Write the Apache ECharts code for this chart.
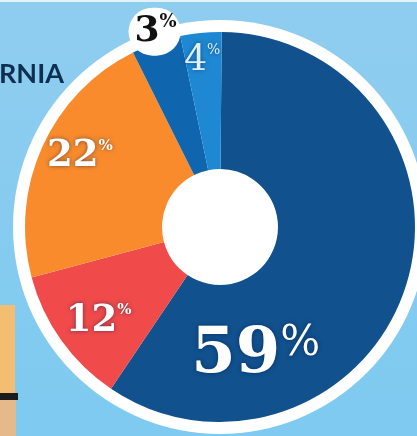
<!DOCTYPE html>
<html>
<head>
<meta charset="utf-8">
<script src="https://cdn.jsdelivr.net/npm/echarts@6/dist/echarts.min.js"></script>
<style>
html, body { margin: 0; padding: 0; }
#main { width: 417px; height: 436px; }
</style>
</head>
<body>
<div id="main"></div>
<script>
// slices, clockwise from 12 o'clock
var sliceNames = ['dark blue', 'red', 'orange', 'navy', 'light blue'];
// share of the circle each slice takes in the picture
var sliceShares = [59.3, 11.4, 21.8, 4.1, 3.4];
// percentages printed on the slices
var printedPct = [59, 12, 22, 3, 4];

var sliceColors = ['#10518e', '#f04a4b', '#f98b2d', '#0f66ae', '#1f88d3'];
var serif = '"DejaVu Serif", "Liberation Serif", serif';

// label look for each slice
var labelStyles = [
    { offset: [-88, 90], n: 64, p: 42, color: '#ffffff', weight: 'bold', pw: 'normal' },
    { offset: [-16, 19], n: 37, p: 15, color: '#ffffff', weight: 'bold', pw: 'bold' },
    { offset: [-22, -17], n: 37, p: 15, color: '#ffffff', weight: 'bold', pw: 'bold' },
    { offset: [-23, -73], n: 36, p: 18, color: '#111111', weight: 'bold', pw: 'bold', bubble: true },
    { offset: [-5, -37], n: 36, p: 14, color: '#dff0fb', weight: 'normal', pw: 'normal' }
];

var pieData = [];
for (var i = 0; i < sliceShares.length; i++) {
    var s = labelStyles[i];
    var lbl = {
        show: true,
        position: 'inside',
        offset: s.offset,
        formatter: '{n|' + printedPct[i] + '}{p|%}',
        rich: {
            n: { fontFamily: serif, fontSize: s.n, fontWeight: s.weight, color: s.color, lineHeight: s.n },
            p: { fontFamily: serif, fontSize: s.p, fontWeight: s.pw, color: s.color, verticalAlign: 'top', lineHeight: s.n }
        }
    };
    if (s.bubble) {
        lbl.backgroundColor = '#ffffff';
        lbl.borderRadius = 24;
        lbl.padding = [6, 4, 6, 6];
    } else {
        lbl.textShadowColor = 'rgba(0,25,60,0.55)';
        lbl.textShadowBlur = 4;
    }
    pieData.push({
        name: sliceNames[i],
        value: sliceShares[i],
        itemStyle: { color: sliceColors[i] },
        label: lbl
    });
}

var myChart = echarts.init(document.getElementById('main'));

var option = {
    animation: false,
    backgroundColor: new echarts.graphic.LinearGradient(0, 0, 0, 1, [
        { offset: 0, color: '#8fcdef' },
        { offset: 1, color: '#7ecaf0' }
    ]),
    title: {
        text: 'RNIA',
        left: -1,
        top: 61,
        padding: 0,
        textStyle: { fontFamily: 'Lato', fontWeight: 'bold', fontSize: 27, color: '#0d2f52' }
    },
    graphic: [
        { type: 'rect', shape: { x: 0, y: 0, width: 417, height: 2 }, style: { fill: '#e4f3fb' }, silent: true },
        { type: 'rect', shape: { x: 0, y: 305, width: 15, height: 131 }, style: { fill: '#f4be72' }, silent: true },
        { type: 'rect', shape: { x: 0, y: 393, width: 18, height: 7 }, style: { fill: '#1c1c1c' }, silent: true },
        { type: 'rect', shape: { x: 0, y: 400, width: 16, height: 36 }, style: { fill: '#e6b98a' }, silent: true }
    ],
    series: [
        {
            // white rim and hole
            type: 'pie',
            center: [220, 227],
            radius: [0, 207],
            silent: true,
            label: { show: false },
            labelLine: { show: false },
            data: [{ value: 1, itemStyle: { color: '#ffffff' } }]
        },
        {
            type: 'pie',
            center: [220, 227],
            radius: [58, 195],
            startAngle: 89.5,
            clockwise: true,
            avoidLabelOverlap: false,
            silent: true,
            labelLine: { show: false },
            emphasis: { disabled: true },
            data: pieData
        }
    ]
};

myChart.setOption(option);
</script>
</body>
</html>
